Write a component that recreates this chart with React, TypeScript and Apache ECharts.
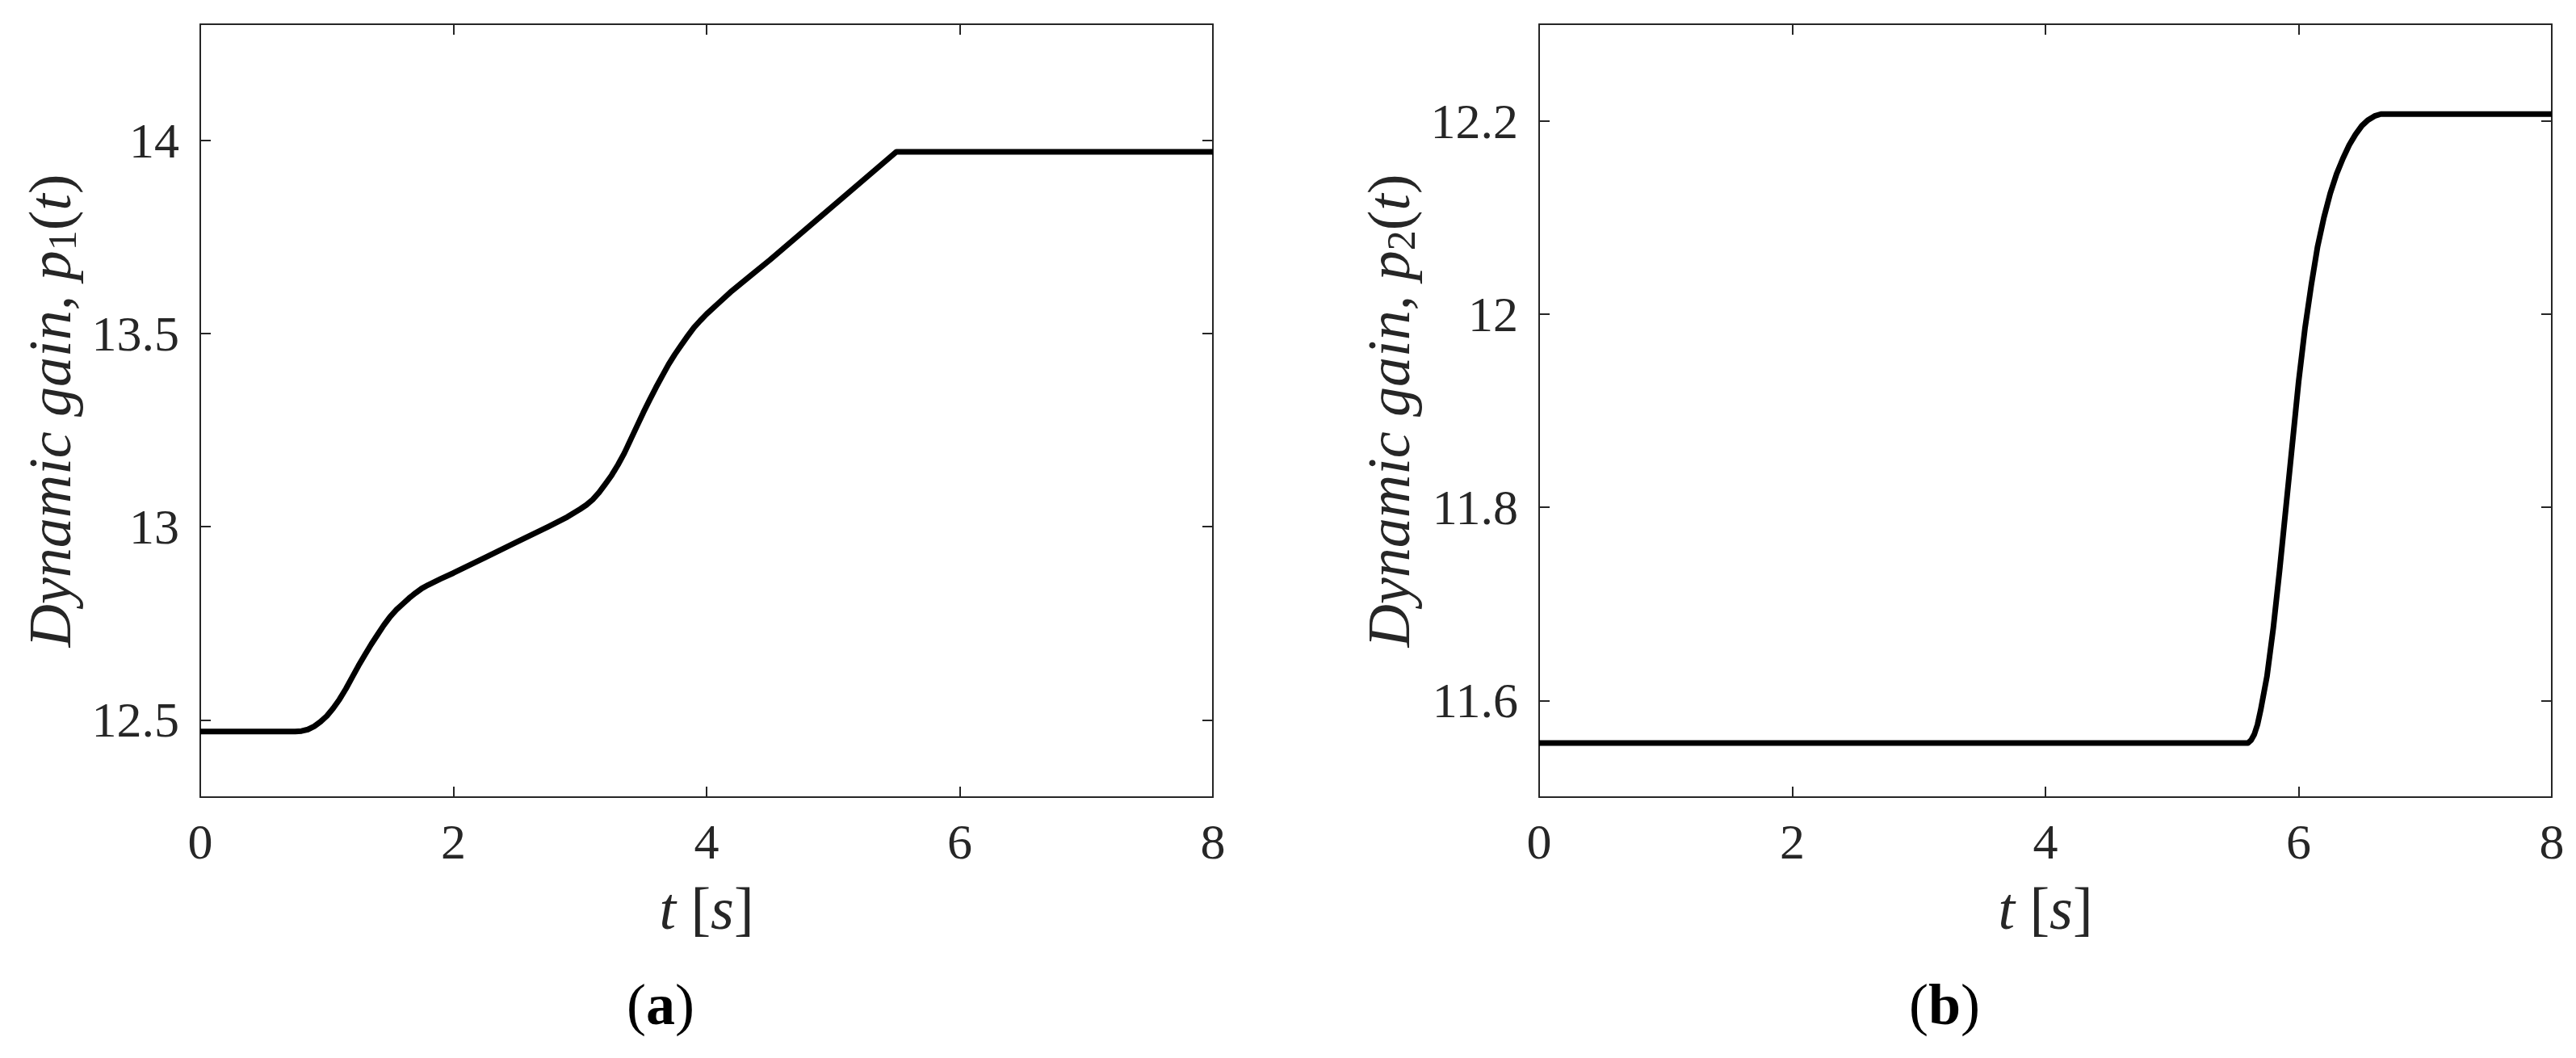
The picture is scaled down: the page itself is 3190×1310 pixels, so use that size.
import React, { useEffect, useRef } from "react";
import * as echarts from "echarts";

const tA = [0, 0.75, 0.8, 0.85, 0.9, 0.95, 1.0, 1.05, 1.1, 1.15, 1.2, 1.25, 1.3, 1.35, 1.4, 1.45, 1.5, 1.55, 1.6, 1.65, 1.7, 1.75, 1.8, 1.9, 2.0, 2.25, 2.5, 2.75, 2.9, 3.0, 3.05, 3.1, 3.15, 3.2, 3.25, 3.3, 3.35, 3.4, 3.45, 3.5, 3.55, 3.6, 3.65, 3.7, 3.75, 3.8, 3.85, 3.9, 3.95, 4.0, 4.1, 4.2, 4.35, 4.5, 4.75, 5.0, 5.25, 5.5, 8];
const p1 = [12.47, 12.47, 12.471, 12.475, 12.483, 12.495, 12.51, 12.53, 12.553, 12.58, 12.61, 12.64, 12.668, 12.695, 12.72, 12.745, 12.767, 12.785, 12.8, 12.815, 12.828, 12.84, 12.849, 12.865, 12.88, 12.92, 12.96, 13.0, 13.025, 13.045, 13.056, 13.07, 13.088, 13.11, 13.133, 13.16, 13.19, 13.225, 13.26, 13.295, 13.328, 13.36, 13.39, 13.42, 13.446, 13.47, 13.493, 13.515, 13.533, 13.55, 13.58, 13.61, 13.65, 13.69, 13.76, 13.83, 13.9, 13.97, 13.97];

const tB = [0, 5.6, 5.625, 5.65, 5.675, 5.7, 5.75, 5.8, 5.85, 5.9, 5.95, 6.0, 6.05, 6.1, 6.15, 6.2, 6.25, 6.3, 6.35, 6.4, 6.45, 6.5, 6.55, 6.6, 6.65, 8];
const p2 = [11.556, 11.556, 11.559, 11.565, 11.575, 11.59, 11.625, 11.675, 11.735, 11.8, 11.865, 11.93, 11.985, 12.03, 12.07, 12.1, 12.125, 12.145, 12.161, 12.175, 12.186, 12.195, 12.201, 12.205, 12.207, 12.207];

const xTicks = [0, 2, 4, 6, 8];
const yTicksA = [12.5, 13, 13.5, 14];
const yTicksB = [11.6, 11.8, 12, 12.2];

const FONT = "Liberation Serif";
const AX = "#262626";

function pairs(xs: number[], ys: number[]) {
  return xs.map((x, i) => [x, ys[i]]);
}

const richName = {
  i: { fontFamily: FONT, fontStyle: "italic", fontSize: 74, color: AX, lineHeight: 80 },
  n: { fontFamily: FONT, fontSize: 74, color: AX, lineHeight: 80 },
  sub: { fontFamily: FONT, fontSize: 50, color: AX, lineHeight: 40, verticalAlign: "bottom" },
};

function bottomAxis(grid: number) {
  return {
    type: "value",
    gridIndex: grid,
    min: xTicks[0],
    max: xTicks[xTicks.length - 1],
    interval: 2,
    position: "bottom",
    axisLine: { show: true, onZero: false, lineStyle: { color: AX, width: 2 } },
    axisTick: { show: true, inside: true, length: 13, lineStyle: { color: AX, width: 2 } },
    axisLabel: { show: true, margin: 24, fontFamily: FONT, fontSize: 62, color: AX },
    splitLine: { show: false },
    name: "{i|t}{n| [}{i|s}{n|]}",
    nameLocation: "middle",
    nameGap: 98,
    nameTextStyle: { rich: richName },
  };
}
function topAxis(grid: number) {
  return {
    type: "value",
    gridIndex: grid,
    min: xTicks[0],
    max: xTicks[xTicks.length - 1],
    interval: 2,
    position: "top",
    axisLine: { show: true, onZero: false, lineStyle: { color: AX, width: 2 } },
    axisTick: { show: true, inside: true, length: 13, lineStyle: { color: AX, width: 2 } },
    axisLabel: { show: false },
    splitLine: { show: false },
  };
}
function leftAxis(grid: number, min: number, max: number, ticks: number[], sub: string) {
  return {
    type: "value",
    gridIndex: grid,
    min,
    max,
    position: "left",
    axisLine: { show: true, onZero: false, lineStyle: { color: AX, width: 2 } },
    axisTick: { show: true, inside: true, length: 13, lineStyle: { color: AX, width: 2 }, customValues: ticks },
    axisLabel: { show: true, margin: 26, fontFamily: FONT, fontSize: 62, color: AX, customValues: ticks },
    splitLine: { show: false },
    name: "{i|Dynamic gain, p}{sub|" + sub + "}{n|(}{i|t}{n|)}",
    nameLocation: "middle",
    nameRotate: 90,
    nameGap: 146,
    nameTextStyle: { rich: richName },
  };
}
function rightAxis(grid: number, min: number, max: number, ticks: number[]) {
  return {
    type: "value",
    gridIndex: grid,
    min,
    max,
    position: "right",
    axisLine: { show: true, onZero: false, lineStyle: { color: AX, width: 2 } },
    axisTick: { show: true, inside: true, length: 13, lineStyle: { color: AX, width: 2 }, customValues: ticks },
    axisLabel: { show: false },
    splitLine: { show: false },
  };
}

function panelLabel(letter: string, x: number, y: number) {
  return {
    type: "text",
    x,
    y,
    style: {
      text: "{n|(}{b|" + letter + "})".replace("})", "}{n|)}"),
      align: "center",
      verticalAlign: "middle",
      rich: {
        n: { fontFamily: FONT, fontSize: 72, fill: "#000" },
        b: { fontFamily: FONT, fontSize: 72, fontWeight: "bold", fill: "#000" },
      },
    },
  };
}

export default function App() {
  const ref = useRef<HTMLDivElement>(null);
  useEffect(() => {
    document.body.style.margin = "0";
    const chart = echarts.init(ref.current!, null, { renderer: "svg" });
    chart.setOption({
      animation: false,
      backgroundColor: "#ffffff",
      grid: [
        { left: 248, top: 30, width: 1254, height: 957 },
        { left: 1906, top: 30, width: 1254, height: 957 },
      ],
      xAxis: [bottomAxis(0), topAxis(0), bottomAxis(1), topAxis(1)],
      yAxis: [
        leftAxis(0, 12.3, 14.3, yTicksA, "1"),
        rightAxis(0, 12.3, 14.3, yTicksA),
        leftAxis(1, 11.5, 12.3, yTicksB, "2"),
        rightAxis(1, 11.5, 12.3, yTicksB),
      ],
      series: [
        {
          type: "line",
          xAxisIndex: 0,
          yAxisIndex: 0,
          data: pairs(tA, p1),
          showSymbol: false,
          smooth: false,
          lineStyle: { color: "#000000", width: 7, join: "round" },
        },
        {
          type: "line",
          xAxisIndex: 2,
          yAxisIndex: 2,
          data: pairs(tB, p2),
          showSymbol: false,
          smooth: false,
          lineStyle: { color: "#000000", width: 7, join: "round" },
        },
      ],
      graphic: [panelLabel("a", 818, 1244), panelLabel("b", 2408, 1244)],
    });
    return () => chart.dispose();
  }, []);
  return <div ref={ref} style={{ width: 3190, height: 1310 }} />;
}
